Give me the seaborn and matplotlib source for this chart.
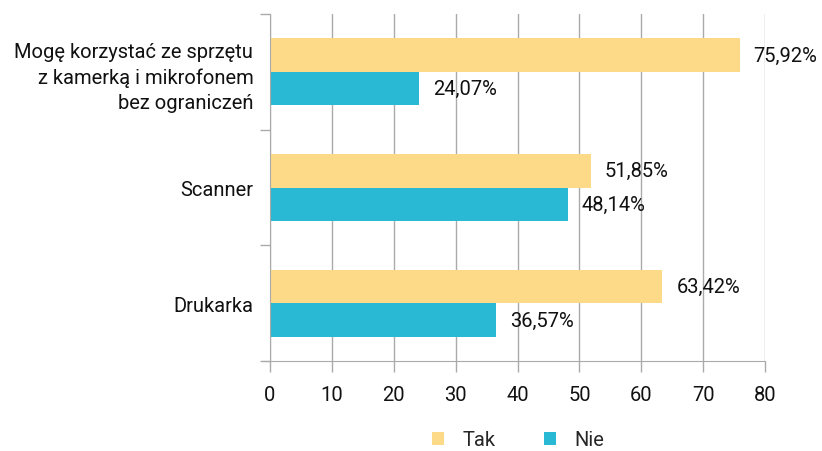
import pandas as pd
import matplotlib.pyplot as plt
import seaborn as sns
from matplotlib.ticker import FixedLocator
from matplotlib.patches import Patch

sns.set_style("white", {'xtick.bottom': True, 'ytick.left': True})
plt.rcParams['font.family'] = ['Roboto', 'DejaVu Sans']

categories = ['Mogę korzystać ze sprzętu\nz kamerką i mikrofonem\nbez ograniczeń', 'Scanner', 'Drukarka']
tak_values = [75.92, 51.85, 63.42]
nie_values = [24.07, 48.14, 36.57]
series = ['Tak', 'Nie']
colors = {'Tak': '#FDDA88', 'Nie': '#29B9D4'}

df = pd.DataFrame({
    'Kategoria': categories * 2,
    'Odpowiedź': ['Tak'] * 3 + ['Nie'] * 3,
    'Procent': tak_values + nie_values,
})

fig = plt.figure(figsize=(8.22, 4.52), dpi=100)
ax = fig.add_axes([270 / 822, 1 - 362 / 452, 495 / 822, 347 / 452])

sns.barplot(data=df, y='Kategoria', x='Procent', hue='Odpowiedź', orient='h',
            palette=colors, width=0.58, ax=ax, legend=False, saturation=1, linewidth=0)

ax.set_xlim(0, 80)
ax.set_ylim(2.5, -0.5)
ax.set_xticks(range(0, 81, 10))
ax.xaxis.grid(True, color='#aaaaaa', linewidth=1)
ax.set_axisbelow(True)
ax.set_xlabel('')
ax.set_ylabel('')

for side in ['top', 'right']:
    ax.spines[side].set_visible(False)
for side in ['left', 'bottom']:
    ax.spines[side].set_color('#aaaaaa')

# x ticks hang below the axis line
ax.tick_params(axis='x', which='major', bottom=True, direction='out', length=8, width=1,
               color='#aaaaaa', labelsize=14.5, pad=9, labelcolor='#111111')
ax.tick_params(axis='y', which='major', left=True, length=0, labelsize=14.5, pad=12, labelcolor='#111111')
# category separators on the y axis
ax.yaxis.set_minor_locator(FixedLocator([-0.5, 0.5, 1.5, 2.5]))
ax.tick_params(axis='y', which='minor', left=True, length=7, width=1, color='#aaaaaa')
ax.spines['bottom'].set_bounds(-1.2, 80)
ax.spines['left'].set_bounds(-0.5, 2.5)
for lbl in ax.get_yticklabels():
    lbl.set_linespacing(1.4)

for container in ax.containers:
    labels = [f'{w:.2f}%'.replace('.', ',') for w in container.datavalues]
    ax.bar_label(container, labels=labels, padding=10, fontsize=14.5, color='#111111')

handles = [Patch(facecolor=colors[s], edgecolor='none', label=s) for s in series]
fig.legend(handles=handles, loc='center', bbox_to_anchor=(518 / 822, 1 - 441 / 452), ncol=2,
           frameon=False, fontsize=14.5, handlelength=0.6, handleheight=0.6,
           columnspacing=2.4, handletextpad=0.9)

fig.savefig('out.png', dpi=100)
